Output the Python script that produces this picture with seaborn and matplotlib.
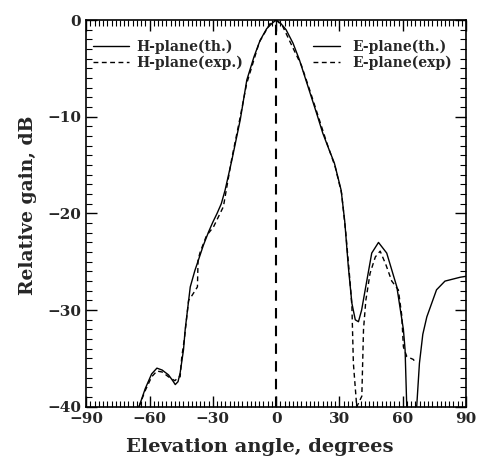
import numpy as np
import pandas as pd
import matplotlib
matplotlib.use("Agg")
import matplotlib.pyplot as plt
import seaborn as sns
from matplotlib.ticker import MultipleLocator
from matplotlib.lines import Line2D

# ---- data ----
h_th_x = [-65, -62, -59, -56.5, -54, -51, -49, -47.8, -46.5, -45.5, -43.9, -43.1, -40.7,
          -38.5, -36.8, -34.5, -32, -30, -28, -26, -24.2, -21, -17, -13.9, -10.5, -7.6, -4.5, -2, 0]
h_th_y = [-40, -38.1, -36.6, -36.0, -36.2, -36.7, -37.3, -37.7, -37.4, -36.5, -34.1, -32.0, -27.6,
          -25.9, -24.8, -23.3, -21.9, -20.9, -20.0, -19.0, -17.6, -14.5, -10.3, -6.2, -3.8, -2.1, -0.9, -0.35, 0]

h_exp_x = [-65, -62, -59, -56.5, -54, -51, -48, -46, -45.5, -44.7, -43.5, -41.5, -40.2, -37.3,
           -37.0, -36.0, -33, -29.7, -25, -21, -17, -14, -8, -3, 0]
h_exp_y = [-40, -38.3, -36.9, -36.3, -36.4, -36.9, -37.3, -36.9, -36.9, -34.8, -33.0, -29.0, -28.6, -27.6,
           -24.8, -24.0, -22.3, -21.4, -19.3, -14.3, -10.0, -6.6, -2.3, -0.4, 0]

e_th_x = [0, 2, 4.7, 8, 11, 13.8, 16.6, 19.4, 22.1, 24.9, 27.6, 30.8, 32.5, 34.2, 35.9, 37.5, 39,
          40.5, 42.2, 45.3, 48.5, 52.4, 57.2, 60.3, 61.1, 61.9, 62.5, 66.0, 66.6, 67.9, 69.5,
          71.4, 76, 80, 87.2, 90]
e_th_y = [0, -0.3, -1.0, -2.4, -4.1, -6.0, -7.9, -9.8, -11.7, -13.3, -14.8, -17.6, -20.8, -25.5, -29.3, -31.0, -31.2,
          -30.0, -27.9, -24.1, -23.0, -24.1, -27.6, -32.0, -34.1, -40, -46, -46, -40, -35.5, -32.5,
          -30.7, -27.9, -27.0, -26.6, -26.5]

e_exp_x = [0, 3, 8, 12, 16, 20, 24, 28, 31, 33, 35, 35.9, 36.6, 38.2, 40.6, 41.4, 42.5, 44.5, 47,
           49.3, 52, 54.8, 57.9, 59.5, 60.3, 61.9, 65, 66]
e_exp_y = [0, -0.6, -2.9, -4.7, -7.3, -10.0, -12.7, -15.2, -17.9, -22.0, -27.0, -29.6, -35.5, -40.0, -38.9,
           -32.0, -29.0, -26.2, -24.5, -23.9, -25.3, -27.0, -27.9, -30.5, -33.8, -34.8, -35.1, -35.4]

x_ticks = [-90, -60, -30, 0, 30, 60, 90]
y_ticks = [-40, -30, -20, -10, 0]

# ---- figure ----
sns.set_theme(style="ticks")
plt.rcParams['font.family'] = ['DejaVu Serif']
plt.rcParams['font.weight'] = 'bold'

fig = plt.figure(figsize=(4.79, 4.66), dpi=100)
ax = fig.add_axes([0.18, 0.127, 0.793, 0.83])

def frame(x, y):
    return pd.DataFrame({"x": x, "y": y})

lw = 1.0
dash = (0, (3.5, 2.5))
sns.lineplot(data=frame(h_th_x, h_th_y), x="x", y="y", ax=ax, sort=False,
             color="black", lw=lw, estimator=None)
sns.lineplot(data=frame(h_exp_x, h_exp_y), x="x", y="y", ax=ax, sort=False,
             color="black", lw=lw, estimator=None, linestyle=dash)
sns.lineplot(data=frame(e_th_x, e_th_y), x="x", y="y", ax=ax, sort=False,
             color="black", lw=lw, estimator=None)
sns.lineplot(data=frame(e_exp_x, e_exp_y), x="x", y="y", ax=ax, sort=False,
             color="black", lw=lw, estimator=None, linestyle=dash)

ax.axvline(0, color="black", lw=1.5, linestyle=(0, (5, 3.5)))

ax.set_xlim(-90, 90)
ax.set_ylim(-40, 0)
ax.set_xticks(x_ticks)
ax.set_yticks(y_ticks)
ax.set_xticklabels([str(v).replace('-', '\u2212') for v in x_ticks], fontsize=11, fontweight='bold')
ax.set_yticklabels([str(v).replace('-', '\u2212') for v in y_ticks], fontsize=11, fontweight='bold')
ax.xaxis.set_minor_locator(MultipleLocator(2))
ax.yaxis.set_minor_locator(MultipleLocator(1))
ax.tick_params(which='both', direction='in', top=True, right=True, color='black')
ax.tick_params(which='major', length=8, width=1)
ax.tick_params(which='minor', length=4, width=0.8)
for s in ax.spines.values():
    s.set_color('black')
    s.set_linewidth(1.2)

ax.set_xlabel("Elevation angle, degrees", fontsize=14, fontweight='bold')
ax.set_ylabel("Relative gain, dB", fontsize=13.5, fontweight='bold')
ax.xaxis.set_label_coords(0.458, -0.08)
ax.yaxis.set_label_coords(-0.129, 0.522)

h1 = Line2D([], [], color='black', lw=lw)
h2 = Line2D([], [], color='black', lw=lw, linestyle=dash)
leg1 = ax.legend([h1, h2], ["H-plane(th.)", "H-plane(exp.)"], loc='upper left',
                 bbox_to_anchor=(0.018, 0.95), frameon=False,
                 handlelength=2.6, handletextpad=0.5, labelspacing=0.1,
                 borderaxespad=0, borderpad=0,
                 prop={'weight': 'bold', 'size': 10})
ax.add_artist(leg1)
ax.legend([h1, h2], ["E-plane(th.)", "E-plane(exp)"], loc='upper right',
          bbox_to_anchor=(0.962, 0.95), frameon=False,
          handlelength=1.95, handletextpad=0.86, labelspacing=0.1,
          borderaxespad=0, borderpad=0,
          prop={'weight': 'bold', 'size': 10})

fig.savefig("out.png", dpi=100)
